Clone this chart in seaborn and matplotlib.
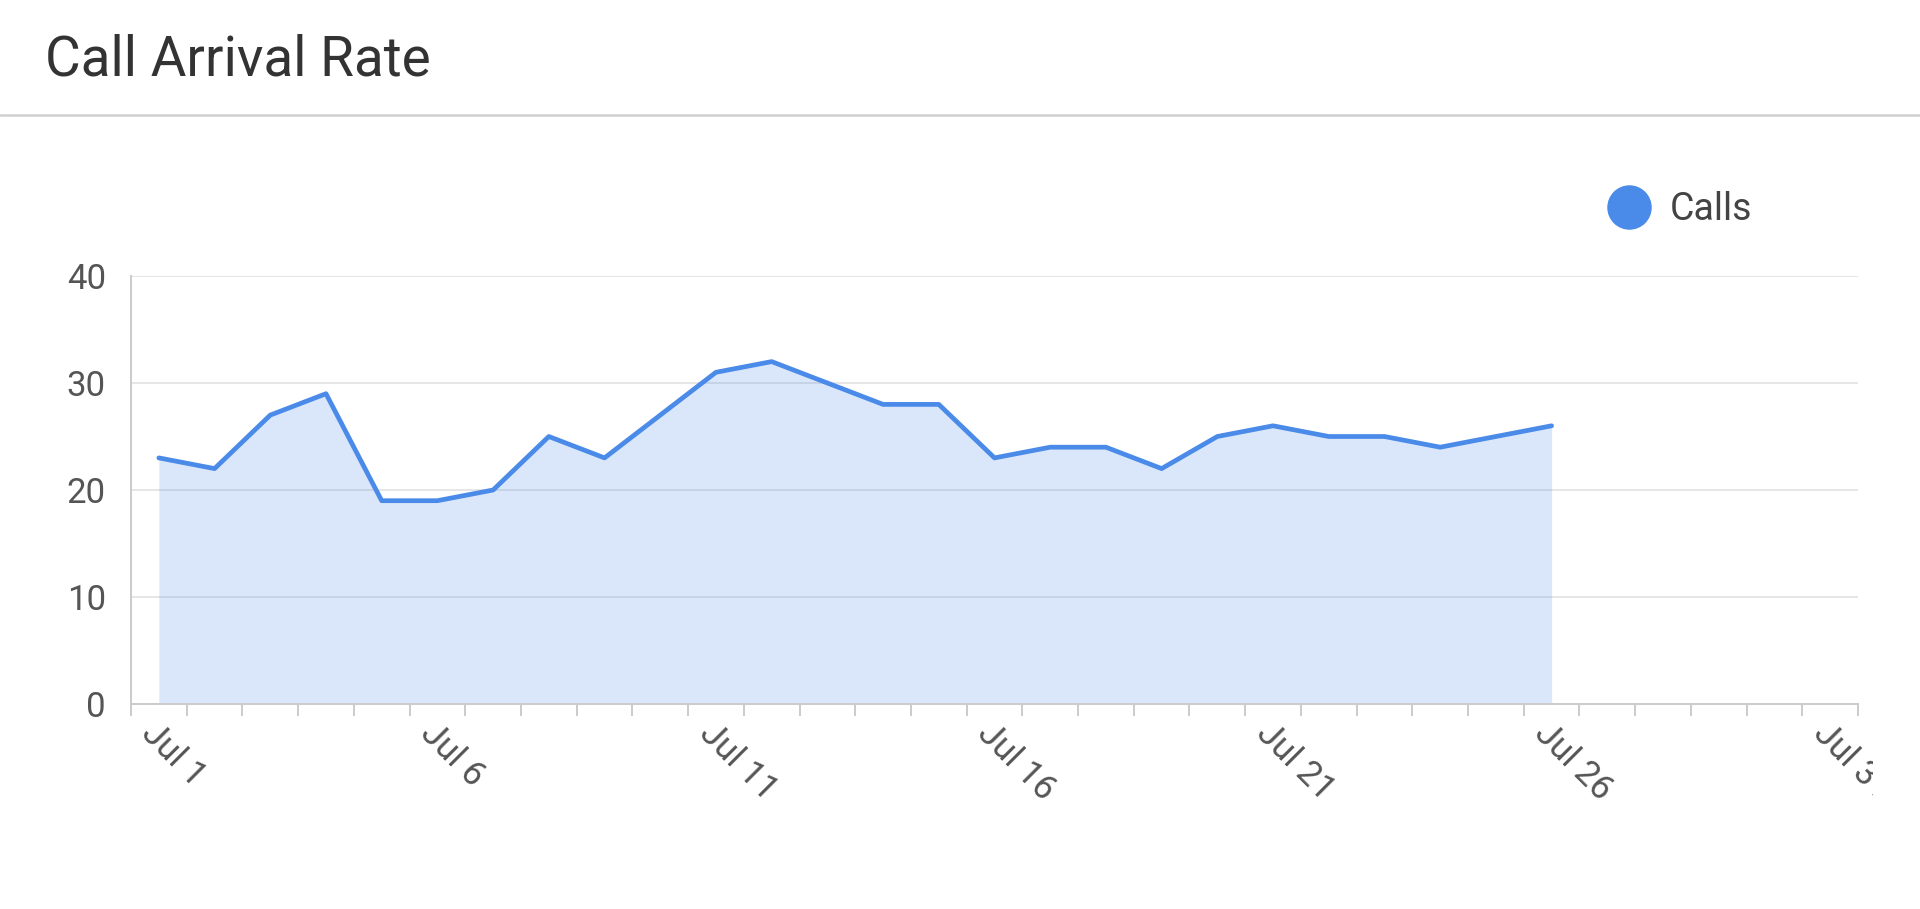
import matplotlib
matplotlib.use("Agg")
import matplotlib.pyplot as plt
import seaborn as sns
import pandas as pd
from matplotlib.lines import Line2D
from matplotlib.transforms import Bbox, TransformedBbox

# ---- data ----
title = "Call Arrival Rate"
series_name = "Calls"
month = "Jul"
days = list(range(1, 32))
calls = [23, 22, 27, 29, 19, 19, 20, 25, 23, 27, 31, 32, 30, 28, 28,
         23, 24, 24, 22, 25, 26, 25, 25, 24, 25, 26]
y_ticks = [0, 10, 20, 30, 40]
label_days = [1, 6, 11, 16, 21, 26, 31]

categories = [f"{month} {d}" for d in days]
df = pd.DataFrame({"pos": list(range(len(calls))),
                   "date": categories[:len(calls)],
                   series_name: calls})

BLUE = "#4a8ae8"
GRID = "#e6e6e6"
AXIS = "#cccccc"
TXT = "#555555"

sns.set_theme(style="white")
plt.rcParams["font.family"] = ["Roboto", "DejaVu Sans"]

W, H = 1920, 909
fig = plt.figure(figsize=(W / 100, H / 100), dpi=100)
fig.patch.set_facecolor("white")

ax = fig.add_axes([131 / W, 1 - 704 / H, (1858 - 131) / W, (704 - 276) / H])

sns.lineplot(data=df, x="pos", y=series_name, ax=ax, color=BLUE,
             linewidth=3.4, legend=False, zorder=3)
ax.fill_between(df["pos"], df[series_name], 0, color=BLUE, alpha=0.2,
                linewidth=0, zorder=2)

ax.set_xlim(-0.5, len(days) - 0.5)
ax.set_ylim(y_ticks[0], y_ticks[-1])
ax.set_yticks(y_ticks)
ax.set_yticklabels([str(v) for v in y_ticks])
ax.set_xlabel("")
ax.set_ylabel("")

ax.set_xticks([i - 0.5 for i in range(len(days) + 1)])
ax.set_xticklabels([])
label_pos = [days.index(d) for d in label_days]
ax.set_xticks(label_pos, minor=True)
ax.set_xticklabels([categories[p] for p in label_pos], minor=True)

ax.tick_params(axis="x", which="major", bottom=True, length=8.6, width=1.44,
               color=AXIS, labelbottom=False, direction="out")
ax.tick_params(axis="x", which="minor", bottom=True, length=0, pad=9,
               labelsize=25, labelcolor=TXT)
ax.tick_params(axis="y", length=0, pad=18, labelsize=25, labelcolor=TXT)

clip = TransformedBbox(Bbox([[0, 0], [1873 / W, 1]]), fig.transFigure)
for lbl in ax.get_xticklabels(minor=True):
    lbl.set_rotation(-45)
    lbl.set_ha("left")
    lbl.set_va("top")
    lbl.set_rotation_mode("anchor")
    lbl.set_clip_box(clip)
    lbl.set_clip_on(True)

ax.grid(axis="y", color=GRID, linewidth=1.44)
ax.grid(axis="x", visible=False)
ax.set_axisbelow(True)
for s in ["top", "right"]:
    ax.spines[s].set_visible(False)
for s in ["left", "bottom"]:
    ax.spines[s].set_color(AXIS)
    ax.spines[s].set_linewidth(1.44)
ax.set_facecolor("white")

# title and separator
fig.text(45 / W, 1 - 76 / H, title, fontsize=39.5, color="#333333",
         ha="left", va="baseline")
fig.add_artist(Line2D([0, 1], [1 - 115 / H, 1 - 115 / H],
                      transform=fig.transFigure, color="#d0d0d0",
                      linewidth=1.8))

# legend
handle = Line2D([], [], marker="o", linestyle="none", markersize=31,
                markerfacecolor=BLUE, markeredgecolor=BLUE)
fig.legend(handles=[handle], labels=[series_name], loc="center left",
           bbox_to_anchor=(1608 / W, 1 - 210 / H), frameon=False,
           borderpad=0, borderaxespad=0, handlelength=1.1,
           handletextpad=0.55, fontsize=27, labelcolor="#444444")

fig.savefig("out.png", dpi=100, facecolor="white")
